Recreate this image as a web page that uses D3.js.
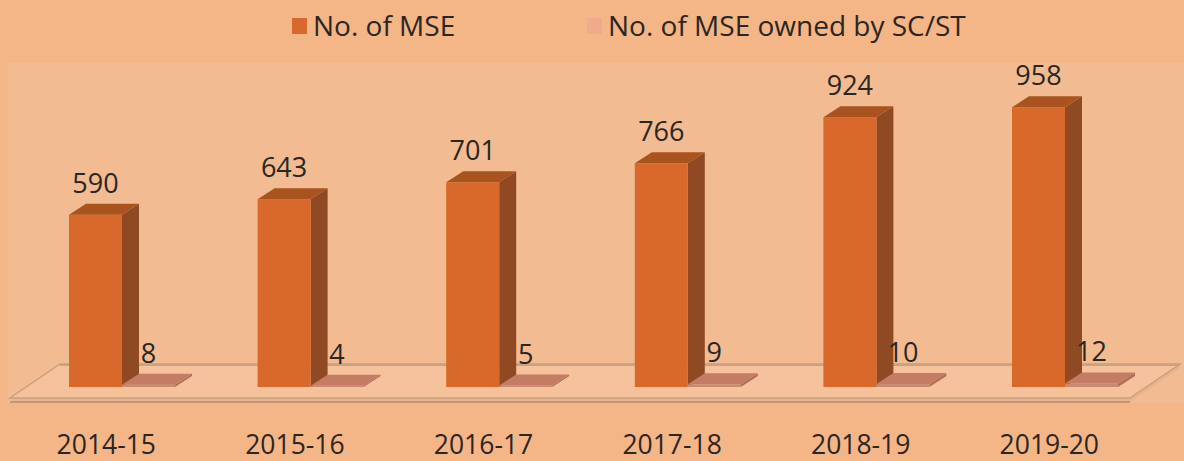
<!DOCTYPE html>
<html>
<head>
<meta charset="utf-8">
<script src="https://cdn.jsdelivr.net/npm/d3@7"></script>
<style>
  html, body { margin: 0; padding: 0; background: #f4b587; }
  svg { display: block; }
  text { font-family: "Open Sans", "DejaVu Sans", sans-serif; fill: #2b2622; }
</style>
</head>
<body>
<svg id="chart" width="1184" height="461"></svg>
<script>
// Number of micro & small enterprises per year
const categories = ["2014-15", "2015-16", "2016-17", "2017-18", "2018-19", "2019-20"];
const seriesNames = ["No. of MSE", "No. of MSE owned by SC/ST"];
const mseTotal = [590, 643, 701, 766, 924, 958];
const mseScSt = [8, 4, 5, 9, 10, 12];

const W = 1184, H = 461;
const svg = d3.select("#chart");

// Palette for front / side / top faces of each series
const faces = [
  { front: "#d8692a", side: "#8f4a23", top: "#a9541f", legend: "#d6692b" },
  { front: "#c98a70", side: "#b07058", top: "#c47c64", legend: "#f0ab8c" }
];

// Panels
svg.append("rect").attr("x", 0).attr("y", 0).attr("width", W).attr("height", H).attr("fill", "#f4b587");
svg.append("rect").attr("x", 8).attr("y", 63).attr("width", W - 8).attr("height", 340).attr("fill", "#f2bb91");

// Scales
const x = d3.scaleBand().domain(categories).range([12, 1143.6]).padding(0);
const xs = d3.scaleBand().domain(seriesNames).range([57, 163]).padding(0);
const y = d3.scaleLinear().domain([0, 1000]).range([387, 95]);

// Depth offsets for the 3D effect
const dx = 17, dy = -11;

// Floor slab
const floorL = 10, floorR = 1130, floorY = 398, fdx = 50, fdy = -34;
const floor = svg.append("g");
floor.append("path")
  .attr("d", `M${floorL},${floorY + 4}L${floorR},${floorY + 4}L${floorR + fdx},${floorY + fdy + 4}L${floorR + fdx},${floorY + fdy}L${floorL + fdx},${floorY + fdy}Z`)
  .attr("fill", "#e9b28c");
floor.append("path")
  .attr("d", `M${floorL},${floorY}L${floorR},${floorY}L${floorR + fdx},${floorY + fdy}L${floorL + fdx},${floorY + fdy}Z`)
  .attr("fill", "#f5c29c").attr("stroke", "#c9a07f").attr("stroke-width", 1.5);
floor.append("line")
  .attr("x1", floorL).attr("x2", floorR).attr("y1", floorY + 4).attr("y2", floorY + 4)
  .attr("stroke", "#c19779").attr("stroke-width", 2);
floor.append("line")
  .attr("x1", floorL + fdx).attr("x2", floorR + fdx).attr("y1", floorY + fdy + 1).attr("y2", floorY + fdy + 1)
  .attr("stroke", "#c8a283").attr("stroke-width", 2);

// Draws one 3D column: front face, right side face and top face
function bar3d(g, x0, w, v, c) {
  const yb = y(0), yt = y(v), x1 = x0 + w;
  g.append("path")
    .attr("d", `M${x1},${yt}L${x1 + dx},${yt + dy}L${x1 + dx},${yb + dy}L${x1},${yb}Z`)
    .attr("fill", c.side);
  g.append("rect").attr("x", x0).attr("y", yt).attr("width", w).attr("height", Math.max(yb - yt, 0.5))
    .attr("fill", c.front);
  g.append("path")
    .attr("d", `M${x0},${yt}L${x0 + dx},${yt + dy}L${x1 + dx},${yt + dy}L${x1},${yt}Z`)
    .attr("fill", c.top);
}

const bars = svg.append("g");
const data = [mseTotal, mseScSt];
categories.forEach((cat, i) => {
  seriesNames.forEach((s, k) => {
    const g = bars.append("g");
    bar3d(g, x(cat) + xs(s), xs.bandwidth(), data[k][i], faces[k]);
  });
});

// Value labels above each column
const labels = svg.append("g").attr("font-size", 27).attr("text-anchor", "middle");
categories.forEach((cat, i) => {
  seriesNames.forEach((s, k) => {
    labels.append("text")
      .attr("x", x(cat) + xs(s) + xs.bandwidth() / 2)
      .attr("y", y(data[k][i]) - 22)
      .text(data[k][i]);
  });
});

// Category axis
const axis = svg.append("g").attr("transform", "translate(0,454)")
  .call(d3.axisBottom(x).tickSize(0).tickPadding(0));
axis.select(".domain").remove();
axis.selectAll("text").attr("font-size", 26.5).attr("dy", 0)
  .style("font-family", "'Open Sans', sans-serif").attr("fill", "#2b2622");

// Legend
const legendItems = [
  { name: seriesNames[0], x: 292, color: faces[0].legend },
  { name: seriesNames[1], x: 587, color: faces[1].legend }
];
const legend = svg.append("g");
legendItems.forEach(it => {
  legend.append("rect").attr("x", it.x).attr("y", 18).attr("width", 15).attr("height", 16).attr("fill", it.color);
  legend.append("text").attr("x", it.x + 21).attr("y", 36).attr("font-size", 28).text(it.name);
});
</script>
</body>
</html>
